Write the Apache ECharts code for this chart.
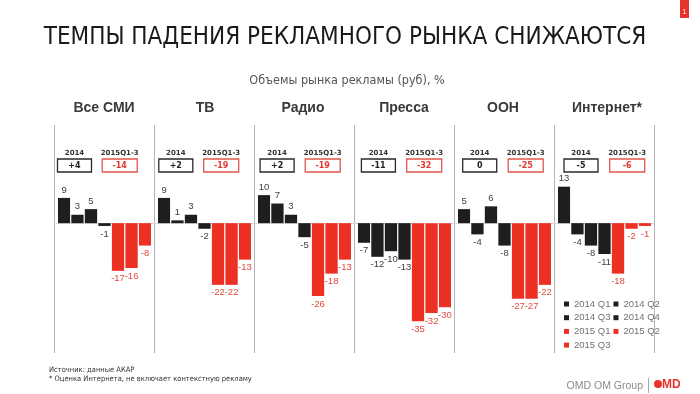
<!DOCTYPE html>
<html><head><meta charset="utf-8">
<script src="https://cdn.jsdelivr.net/npm/echarts@6/dist/echarts.min.js"></script>
<style>html,body{margin:0;padding:0;background:#fff}#c{width:700px;height:394px}</style>
</head><body><div id="c"></div>
<script>
const quarters = ['2014 Q1','2014 Q2','2014 Q3','2014 Q4','2015 Q1','2015 Q2','2015 Q3'];
const media = ['Все СМИ','ТВ','Радио','Пресса','OOH','Интернет*'];
const total2014 = ['+4','+2','+2','-11','0','-5'];
const total2015 = ['-14','-19','-19','-32','-25','-6'];
const valuesAll = [9,3,5,-1,-17,-16,-8];
const valuesTV = [9,1,3,-2,-22,-22,-13];
const valuesRadio = [10,7,3,-5,-26,-18,-13];
const valuesPress = [-7,-12,-10,-13,-35,-32,-30];
const valuesOOH = [5,-4,6,-8,-27,-27,-22];
const valuesInternet = [13,-4,-8,-11,-18,-2,-1];
const panelValues = [valuesAll, valuesTV, valuesRadio, valuesPress, valuesOOH, valuesInternet];

const BLACK = '#1e1e1e', RED = '#ec3024';
const YMIN = -46.3, YMAX = 35;
const TOP = 125, HEIGHT = 228;
const NARROW = "'Liberation Sans Narrow','DejaVu Sans Condensed','Liberation Sans',sans-serif";

const grids = [], xAxes = [], yAxes = [], series = [], graphics = [];
grids.push({left: 54, width: 600, top: TOP, height: HEIGHT});
xAxes.push({gridIndex: 0, type: 'value', min: 0, max: 6, interval: 1,
  axisLine: {show: true, onZero: true, lineStyle: {color: '#d6d6d6', width: 1}},
  axisTick: {show: false}, axisLabel: {show: false},
  splitLine: {show: true, lineStyle: {color: '#b4b4b4', width: 1}}});
yAxes.push({gridIndex: 0, type: 'value', min: YMIN, max: YMAX, show: false});

media.forEach((m, i) => {
  const g = i + 1;
  grids.push({left: 58 + 100 * i, width: 93, top: TOP, height: HEIGHT});
  xAxes.push({gridIndex: g, type: 'category', data: [m], show: false});
  yAxes.push({gridIndex: g, type: 'value', min: YMIN, max: YMAX, show: false});
  quarters.forEach((q, k) => {
    const v = panelValues[i][k];
    const isRed = k >= 4;
    series.push({
      type: 'bar', name: q, xAxisIndex: g, yAxisIndex: g,
      barWidth: 12.3, barGap: '10%',
      itemStyle: {color: isRed ? RED : BLACK},
      label: {show: true, distance: 3, fontSize: 9.5, fontFamily: "'Liberation Sans',sans-serif",
        color: isRed ? '#e0493e' : '#404040'},
      data: [{value: v, label: {position: v >= 0 ? 'top' : 'bottom'}}]
    });
  });
  const titleX = [104, 205, 303, 404, 503, 607][i];
  graphics.push({type: 'text', x: titleX, y: 108, style: {text: m, fill: '#3a3a3a',
    font: "bold 14px 'Liberation Sans',sans-serif", textAlign: 'center', textVerticalAlign: 'middle', align: 'center', verticalAlign: 'middle'}});
  const bx = 74.5 + 101.3 * i, rx = 119.7 + 101.5 * i;
  graphics.push({type: 'text', x: bx, y: 153, style: {text: '2014', fill: '#333',
    font: "bold 7px 'DejaVu Sans',sans-serif", textAlign: 'center', textVerticalAlign: 'middle', align: 'center', verticalAlign: 'middle'}});
  graphics.push({type: 'text', x: rx, y: 153, style: {text: '2015Q1-3', fill: '#333',
    font: "bold 7px 'DejaVu Sans',sans-serif", textAlign: 'center', textVerticalAlign: 'middle', align: 'center', verticalAlign: 'middle'}});
  graphics.push({type: 'rect', shape: {x: bx - 17, y: 159, width: 34, height: 13},
    style: {fill: '#fff', stroke: '#2a2a2a', lineWidth: 1.3}});
  graphics.push({type: 'rect', shape: {x: rx - 17.5, y: 159, width: 35, height: 13},
    style: {fill: '#fff', stroke: '#e2574c', lineWidth: 1.3}});
  graphics.push({type: 'text', x: bx, y: 165.8, style: {text: total2014[i], fill: '#222',
    font: "bold 8px 'DejaVu Sans',sans-serif", textAlign: 'center', textVerticalAlign: 'middle', align: 'center', verticalAlign: 'middle'}});
  graphics.push({type: 'text', x: rx, y: 165.8, style: {text: total2015[i], fill: '#e03a2f',
    font: "bold 8px 'DejaVu Sans',sans-serif", textAlign: 'center', textVerticalAlign: 'middle', align: 'center', verticalAlign: 'middle'}});
});

graphics.push({type: 'text', x: 49, y: 370, style: {text: 'Источник: данные АКАР', fill: '#333',
  font: "7.5px " + NARROW, textVerticalAlign: 'middle', verticalAlign: 'middle'}});
graphics.push({type: 'text', x: 49, y: 379, style: {text: '* Оценка Интернета, не включает контекстную рекламу', fill: '#333',
  font: "7.5px " + NARROW, textVerticalAlign: 'middle', verticalAlign: 'middle'}});
graphics.push({type: 'text', x: 643, y: 386, style: {text: 'OMD OM Group', fill: '#8c8c8c',
  font: "10.5px 'Liberation Sans',sans-serif", textAlign: 'right', textVerticalAlign: 'middle', align: 'right', verticalAlign: 'middle'}});
graphics.push({type: 'line', shape: {x1: 648.5, y1: 378, x2: 648.5, y2: 393}, style: {stroke: '#aaa', lineWidth: 1}});
graphics.push({type: 'circle', shape: {cx: 658, cy: 384, r: 4}, style: {fill: '#e8332a'}});
graphics.push({type: 'text', x: 662, y: 385, style: {text: 'MD', fill: '#e8332a',
  font: "bold 12px 'Liberation Sans',sans-serif", textVerticalAlign: 'middle', verticalAlign: 'middle'}});
graphics.push({type: 'rect', shape: {x: 680, y: 0, width: 9, height: 18}, style: {fill: '#e8332a'}});
graphics.push({type: 'text', x: 684.5, y: 12, style: {text: '1', fill: '#fff',
  font: "7px 'Liberation Sans',sans-serif", textAlign: 'center', textVerticalAlign: 'middle', align: 'center', verticalAlign: 'middle'}});

const legendRows = [[quarters[0], quarters[1]], [quarters[2], quarters[3]], [quarters[4], quarters[5]], [quarters[6]]];
const legends = legendRows.map((row, r) => ({
  data: row, left: 559, top: 294 + r * 13.7, orient: 'horizontal', itemGap: 3,
  itemWidth: 5, itemHeight: 5, icon: 'rect', selectedMode: false,
  textStyle: {fontSize: 9.5, color: '#707070', fontFamily: "'Liberation Sans',sans-serif"}
}));

const chart = echarts.init(document.getElementById('c'));
chart.setOption({
  animation: false,
  title: [
    {text: 'ТЕМПЫ ПАДЕНИЯ РЕКЛАМНОГО РЫНКА СНИЖАЮТСЯ', left: 340, top: 21, textAlign: 'center',
      textStyle: {fontSize: 24, fontWeight: 'normal', color: '#1a1a1a', fontFamily: NARROW}},
    {text: 'Объемы рынка рекламы (руб), %', left: 342, top: 69, textAlign: 'center',
      textStyle: {fontSize: 12.5, fontWeight: 'normal', color: '#555', fontFamily: NARROW}}
  ],
  legend: legends,
  grid: grids, xAxis: xAxes, yAxis: yAxes, series: series,
  graphic: graphics
});
</script></body></html>
